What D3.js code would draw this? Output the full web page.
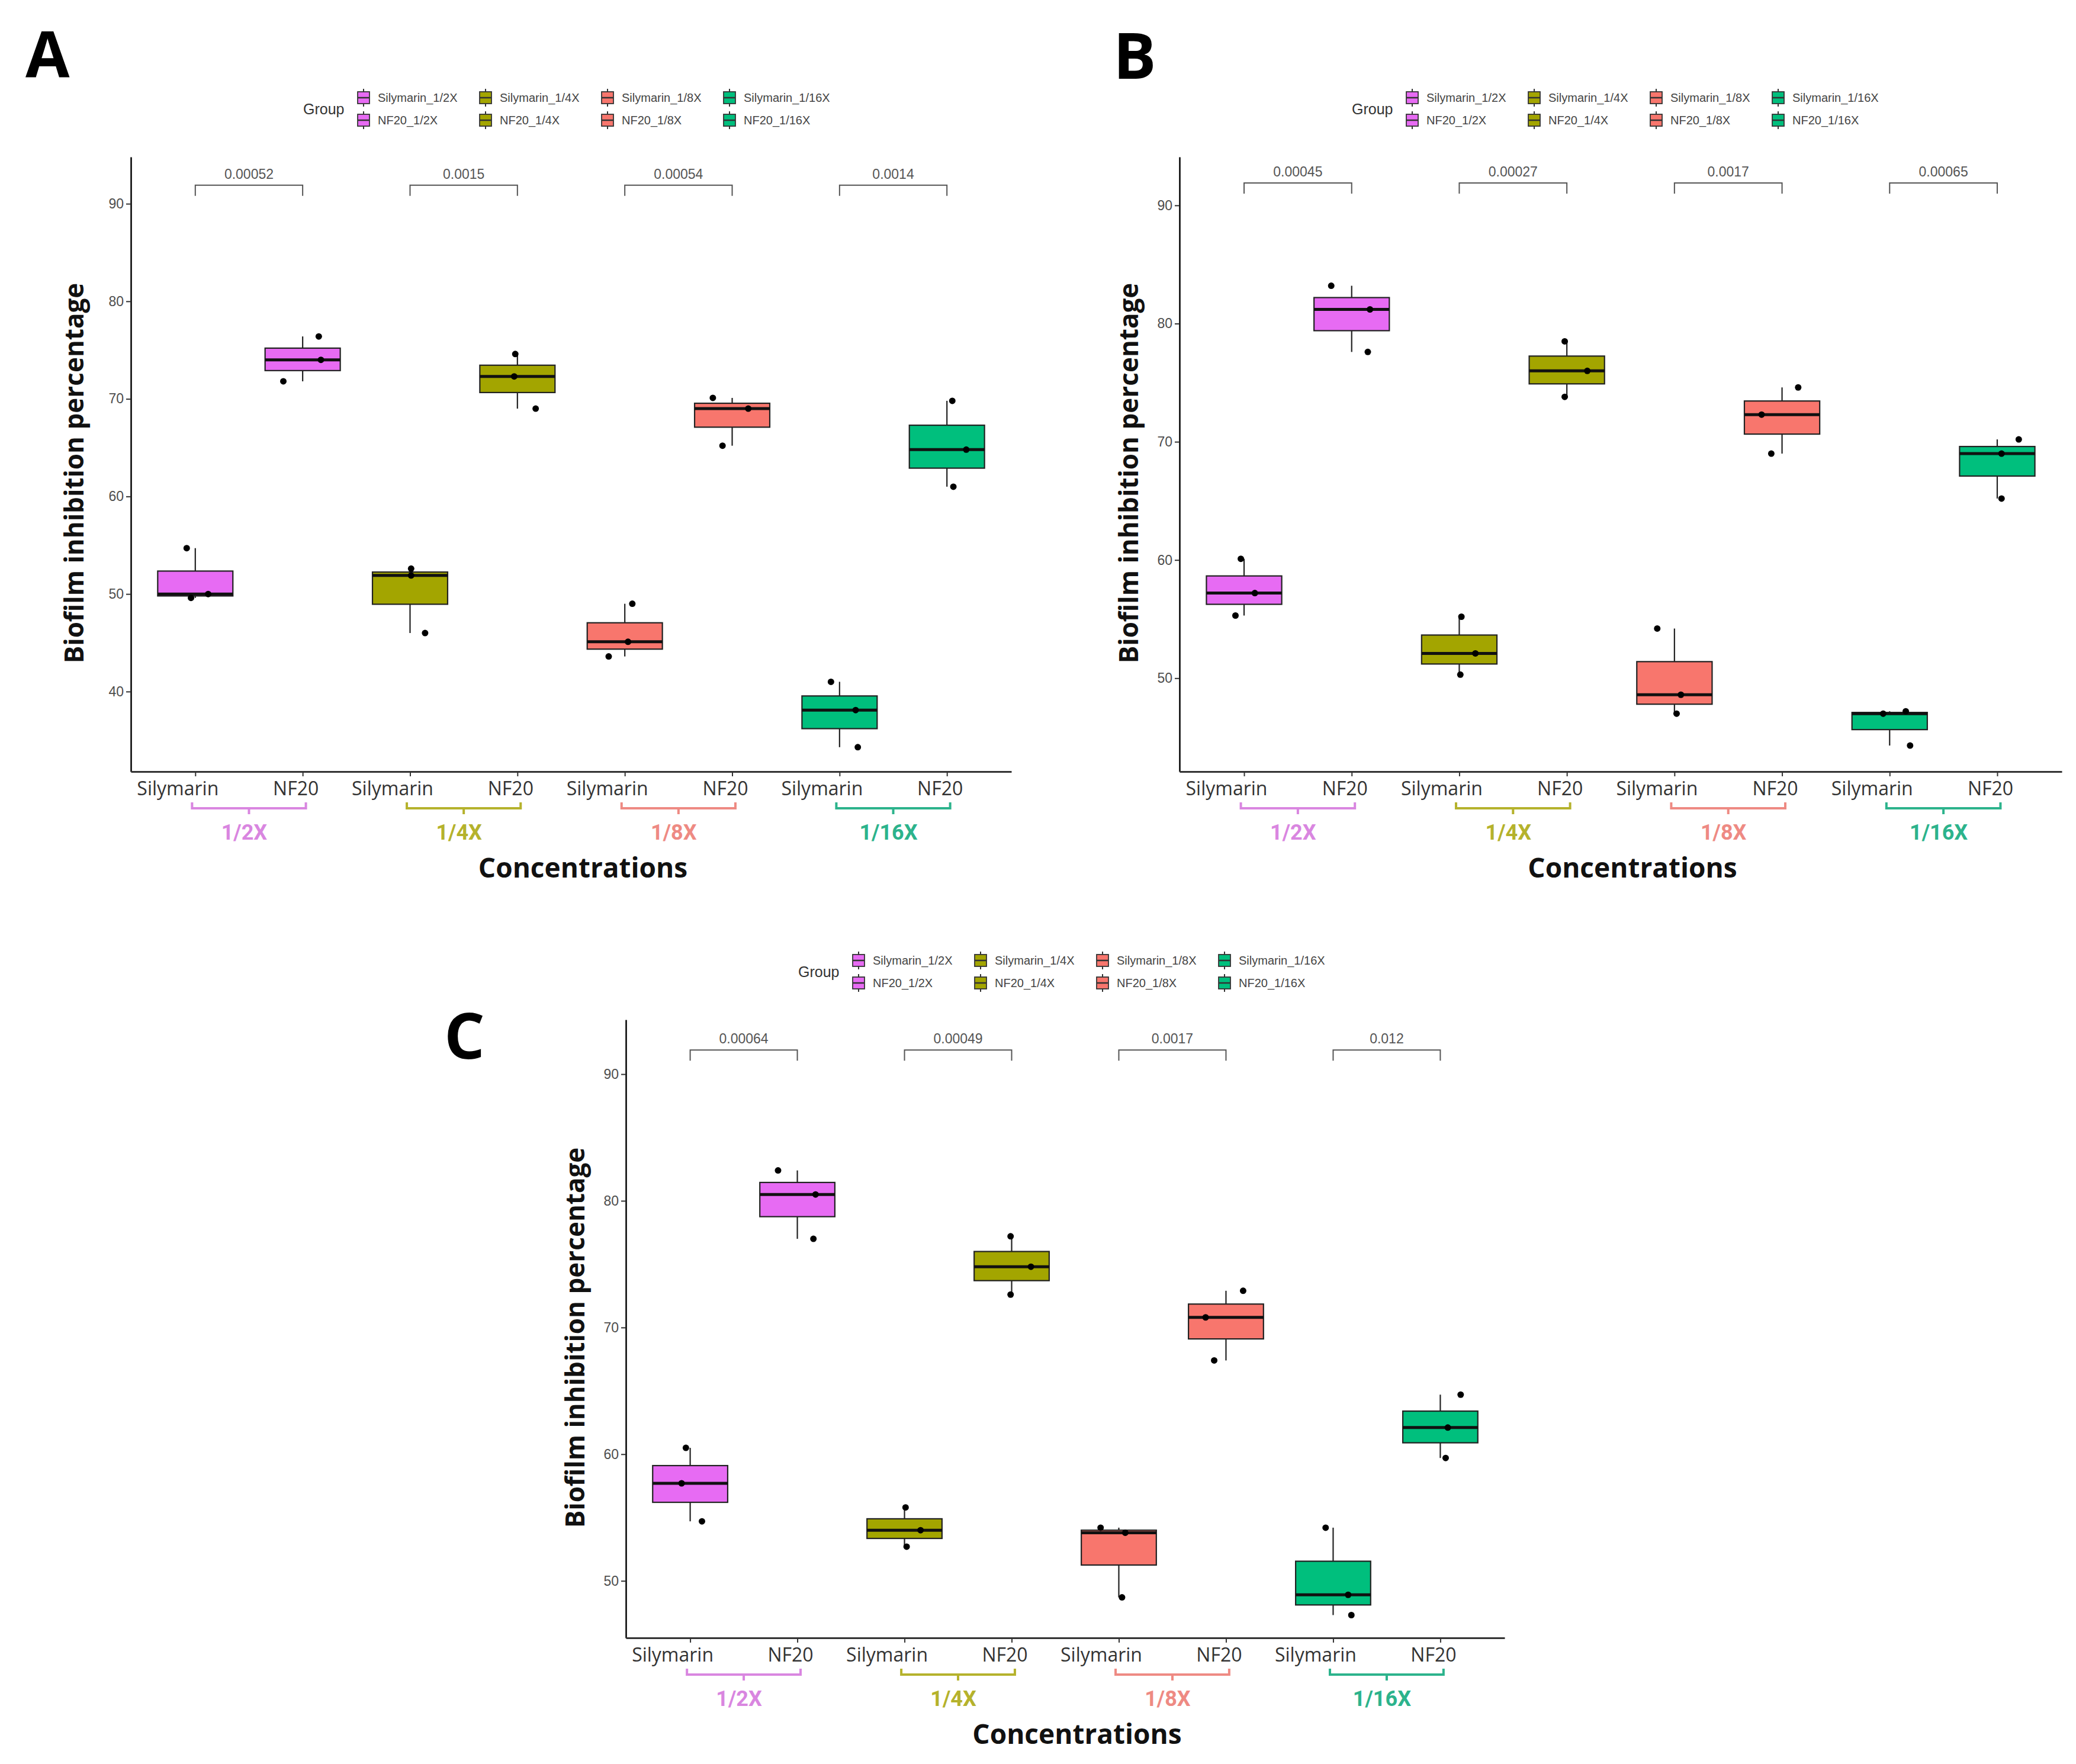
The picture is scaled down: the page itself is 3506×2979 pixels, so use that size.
<!DOCTYPE html>
<html>
<head>
<meta charset="utf-8">
<script src="https://cdn.jsdelivr.net/npm/d3@7"></script>
<style>
  body { margin: 0; background: #fff; }
</style>
</head>
<body>
<div id="chart"></div>
<script>
// SVG size
const svgWidth = 3506;
const svgHeight = 2979;

// Categories
const groups = ["Silymarin_1/2X", "NF20_1/2X", "Silymarin_1/4X", "NF20_1/4X",
                "Silymarin_1/8X", "NF20_1/8X", "Silymarin_1/16X", "NF20_1/16X"];
const tickLabels = ["Silymarin", "NF20", "Silymarin", "NF20", "Silymarin", "NF20", "Silymarin", "NF20"];
const concentrations = ["1/2X", "1/4X", "1/8X", "1/16X"];
const yTicks = [40, 50, 60, 70, 80, 90];

// Replicates (3 per group), panels A, B, C
const valuesA = [[49.6, 50.0, 54.7], [71.8, 74.0, 76.4], [46.0, 51.9, 52.6], [69.0, 72.3, 74.6],
                 [43.6, 45.1, 49.0], [65.2, 69.0, 70.1], [34.3, 38.1, 41.0], [61.0, 64.8, 69.8]];
const valuesB = [[55.3, 57.2, 60.1], [77.6, 81.2, 83.2], [50.3, 52.1, 55.2], [73.8, 76.0, 78.5],
                 [47.0, 48.6, 54.2], [69.0, 72.3, 74.6], [44.3, 47.0, 47.2], [65.2, 69.0, 70.2]];
const valuesC = [[54.7, 57.7, 60.5], [77.0, 80.5, 82.4], [52.7, 54.0, 55.8], [72.6, 74.8, 77.2],
                 [48.7, 53.8, 54.2], [67.4, 70.8, 72.9], [47.3, 48.9, 54.2], [59.7, 62.1, 64.7]];

// p-values of Silymarin vs NF20 per concentration
const pValuesA = ["0.00052", "0.0015", "0.00054", "0.0014"];
const pValuesB = ["0.00045", "0.00027", "0.0017", "0.00065"];
const pValuesC = ["0.00064", "0.00049", "0.0017", "0.012"];

// horizontal jitter of each replicate (fraction of a category step)
const jitterA = [[-0.04, 0.12, -0.08], [-0.18, 0.17, 0.15], [0.14, 0.01, 0.01], [0.17, -0.03, -0.02],
                 [-0.15, 0.03, 0.07], [-0.09, 0.15, -0.18], [0.17, 0.15, -0.08], [0.06, 0.18, 0.05]];
const jitterB = [[-0.08, 0.10, -0.03], [0.15, 0.17, -0.19], [0.01, 0.15, 0.02], [-0.02, 0.19, -0.02],
                 [0.02, 0.06, -0.16], [-0.10, -0.19, 0.15], [0.19, -0.06, 0.15], [0.04, 0.04, 0.20]];
const jitterC = [[0.11, -0.08, -0.04], [0.15, 0.17, -0.18], [0.02, 0.15, 0.01], [-0.01, 0.18, -0.01],
                 [0.03, 0.06, -0.17], [-0.11, -0.19, 0.16], [0.17, 0.14, -0.07], [0.05, 0.07, 0.19]];

// Colours
const fillColors = ["#E76BF3", "#A3A500", "#F8766D", "#00BF7D"];
const labelColors = ["#d986e0", "#b5b22c", "#ee8a83", "#2cb38c"];

// Panel layouts
const panels = [
    {letter: "A", lx: 43, ly: 130, left: 221, top: 265, width: 1487, height: 1038, domain: [31.8, 94.8],
     yTitleDx: -92, values: valuesA, jitter: jitterA, pValues: pValuesA},
    {letter: "B", lx: 1880, ly: 133, left: 1992, top: 265, width: 1490, height: 1038, domain: [42.1, 94.1],
     yTitleDx: -82, values: valuesB, jitter: jitterB, pValues: pValuesB},
    {letter: "C", lx: 750, ly: 1788, left: 1057, top: 1722, width: 1484, height: 1044, domain: [45.5, 94.3],
     yTitleDx: -82, values: valuesC, jitter: jitterC, pValues: pValuesC}
];

const svg = d3.select("#chart")
    .append("svg")
    .attr("width", svgWidth)
    .attr("height", svgHeight);

svg.append("rect").attr("width", svgWidth).attr("height", svgHeight).attr("fill", "#fff");

const sansFont = "'Liberation Sans', Arial, sans-serif";
const labelFont = "'Open Sans', 'Noto Sans', sans-serif";

function drawPanel(p) {
    // panel letter
    svg.append("text")
        .attr("x", p.lx)
        .attr("y", p.ly)
        .attr("font-family", "'Open Sans', sans-serif")
        .attr("font-weight", 700)
        .attr("font-size", 108)
        .text(p.letter);

    const g = svg.append("g")
        .attr("transform", `translate(${p.left}, ${p.top})`);

    const x = d3.scalePoint()
        .domain(d3.range(groups.length))
        .range([0, p.width])
        .padding(0.6);
    const step = x.step();

    const y = d3.scaleLinear()
        .domain(p.domain)
        .range([p.height, 0]);

    // Legend (Silymarin row on top, NF20 row below)
    const legend = g.append("g").attr("transform", "translate(0, -100)");
    legend.append("text")
        .attr("x", 291)
        .attr("y", 19 + 9)
        .attr("font-family", sansFont)
        .attr("font-size", 25)
        .attr("fill", "#333")
        .text("Group");
    groups.forEach((name, i) => {
        const col = Math.floor(i / 2);
        const row = i % 2;
        const cx = 393 + col * 206;
        const cy = row * 38;
        const key = legend.append("g").attr("transform", `translate(${cx}, ${cy})`);
        key.append("line").attr("x1", 0).attr("x2", 0).attr("y1", -15).attr("y2", 15)
            .attr("stroke", "#333").attr("stroke-width", 2);
        key.append("rect").attr("x", -10).attr("y", -10).attr("width", 20).attr("height", 20)
            .attr("fill", fillColors[col]).attr("stroke", "#333").attr("stroke-width", 1.8);
        key.append("line").attr("x1", -10).attr("x2", 10).attr("y1", 0).attr("y2", 0)
            .attr("stroke", "#333").attr("stroke-width", 2.5);
        key.append("text")
            .attr("x", 24)
            .attr("y", 7)
            .attr("font-family", sansFont)
            .attr("font-size", 20)
            .attr("fill", "#444")
            .text(name);
    });

    // Axes
    const leftAxis = d3.axisLeft(y)
        .tickValues(yTicks.filter(t => t >= p.domain[0] && t <= p.domain[1]))
        .tickSize(8)
        .tickSizeOuter(0);
    const yAxis = g.append("g").call(leftAxis);
    yAxis.select(".domain").attr("stroke", "#000").attr("stroke-width", 2.5);
    yAxis.selectAll(".tick line").attr("stroke", "#333").attr("stroke-width", 2);
    yAxis.selectAll(".tick text")
        .attr("font-family", sansFont)
        .attr("font-size", 23)
        .attr("fill", "#4d4d4d")
        .attr("x", -12);

    const bottomAxis = d3.axisBottom(x)
        .tickSize(8)
        .tickSizeOuter(0)
        .tickFormat(i => tickLabels[i]);
    const xAxis = g.append("g")
        .attr("transform", `translate(0, ${p.height})`)
        .call(bottomAxis);
    xAxis.select(".domain").attr("stroke", "#333").attr("stroke-width", 3);
    xAxis.selectAll(".tick line").attr("stroke", "#333").attr("stroke-width", 2);
    xAxis.selectAll(".tick text")
        .attr("font-family", labelFont)
        .attr("font-size", 32)
        .attr("fill", "#333")
        .attr("y", 17)
        .attr("dy", "0.71em")
        .attr("dx", i => (i % 2 === 0 ? -30 : -12));

    // Boxplots
    p.values.forEach((vals, i) => {
        const sorted = vals.slice().sort(d3.ascending);
        const q1 = d3.quantile(sorted, 0.25);
        const med = d3.quantile(sorted, 0.5);
        const q3 = d3.quantile(sorted, 0.75);
        const iqr = q3 - q1;
        const lo = d3.min(sorted.filter(v => v >= q1 - 1.5 * iqr));
        const hi = d3.max(sorted.filter(v => v <= q3 + 1.5 * iqr));
        const cx = x(i);
        const bw = step * 0.7;
        const col = Math.floor(i / 2);

        g.append("line").attr("x1", cx).attr("x2", cx).attr("y1", y(hi)).attr("y2", y(q3))
            .attr("stroke", "#222").attr("stroke-width", 2.2);
        g.append("line").attr("x1", cx).attr("x2", cx).attr("y1", y(q1)).attr("y2", y(lo))
            .attr("stroke", "#222").attr("stroke-width", 2.2);
        g.append("rect")
            .attr("x", cx - bw / 2)
            .attr("y", y(q3))
            .attr("width", bw)
            .attr("height", y(q1) - y(q3))
            .attr("fill", fillColors[col])
            .attr("stroke", "#222")
            .attr("stroke-width", 2.2);
        g.append("line")
            .attr("x1", cx - bw / 2).attr("x2", cx + bw / 2)
            .attr("y1", y(med)).attr("y2", y(med))
            .attr("stroke", "#111").attr("stroke-width", 5);

        g.selectAll(null)
            .data(vals)
            .enter()
            .append("circle")
            .attr("cx", (d, j) => cx + p.jitter[i][j] * step)
            .attr("cy", d => y(d))
            .attr("r", 5.5)
            .attr("fill", "#000");
    });

    // p-value brackets
    p.pValues.forEach((pv, k) => {
        const x1 = x(2 * k);
        const x2 = x(2 * k + 1);
        const yb = y(91.9);
        g.append("path")
            .attr("d", `M${x1},${yb + 18}V${yb}H${x2}V${yb + 18}`)
            .attr("fill", "none")
            .attr("stroke", "#555")
            .attr("stroke-width", 2);
        g.append("text")
            .attr("x", (x1 + x2) / 2)
            .attr("y", yb - 11)
            .attr("text-anchor", "middle")
            .attr("font-family", sansFont)
            .attr("font-size", 23)
            .attr("fill", "#555")
            .text(pv);
    });

    // Concentration brackets below the axis
    concentrations.forEach((c, k) => {
        const mid = (x(2 * k) + x(2 * k + 1)) / 2;
        const half = step * 0.53;
        const yb = p.height + 62;
        g.append("path")
            .attr("d", `M${mid - half},${yb - 10}V${yb}H${mid + half}V${yb - 10}M${mid},${yb}V${yb + 10}`)
            .attr("fill", "none")
            .attr("stroke", labelColors[k])
            .attr("stroke-width", 4);
        g.append("text")
            .attr("x", mid - 8)
            .attr("y", p.height + 115)
            .attr("text-anchor", "middle")
            .attr("font-family", "Roboto, sans-serif")
            .attr("font-weight", 700)
            .attr("font-size", 36)
            .attr("fill", labelColors[k])
            .text(c);
    });

    // Axis titles
    g.append("text")
        .attr("transform", `translate(${p.yTitleDx}, ${p.height / 2 + 15}) rotate(-90)`)
        .attr("text-anchor", "middle")
        .attr("dominant-baseline", "middle")
        .attr("font-family", labelFont)
        .attr("font-weight", 700)
        .attr("font-size", 44)
        .attr("fill", "#111")
        .text("Biofilm inhibition percentage");

    g.append("text")
        .attr("x", p.width / 2 + 20)
        .attr("y", p.height + 179)
        .attr("text-anchor", "middle")
        .attr("font-family", labelFont)
        .attr("font-weight", 700)
        .attr("font-size", 46)
        .attr("fill", "#111")
        .text("Concentrations");
}

panels.forEach(drawPanel);
</script>
</body>
</html>
